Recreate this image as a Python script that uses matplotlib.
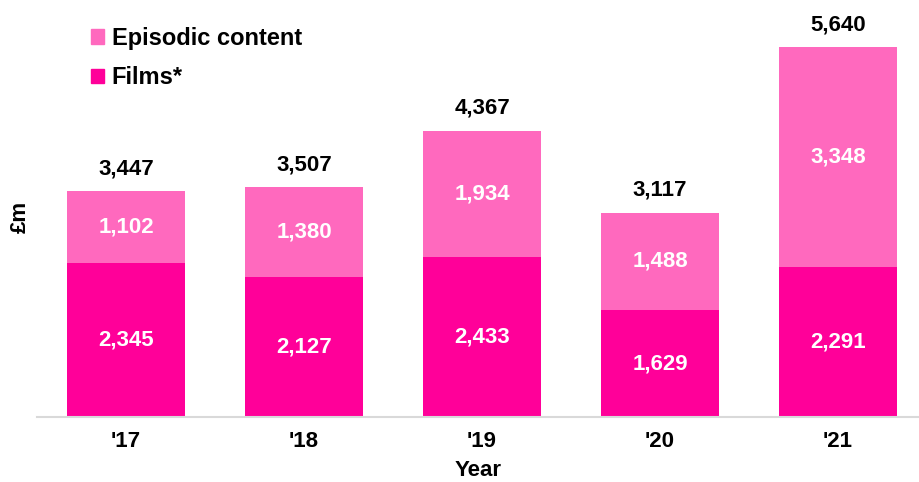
import matplotlib.pyplot as plt
import matplotlib.patches as mpatches
import numpy as np

plt.rcParams['font.family'] = ['Liberation Sans', 'DejaVu Sans']

years = ["'17", "'18", "'19", "'20", "'21"]
films = [2345, 2127, 2433, 1629, 2291]
episodic = [1102, 1380, 1934, 1488, 3348]
totals = [3447, 3507, 4367, 3117, 5640]

c_films = '#FF0099'
c_epi = '#FF69BE'

fig = plt.figure(figsize=(9.19, 4.82), dpi=100)
ax = fig.add_axes([37 / 919, 65 / 482, 882 / 919, 417 / 482])

x = np.arange(len(years))
w = 0.663
ax.bar(x, films, w, color=c_films)
ax.bar(x, episodic, w, bottom=films, color=c_epi)

for i in range(len(years)):
    ax.text(x[i], films[i] / 2, f'{films[i]:,}', ha='center', va='center',
            color='white', fontsize=16, fontweight='bold')
    ax.text(x[i], films[i] + episodic[i] / 2, f'{episodic[i]:,}', ha='center',
            va='center', color='white', fontsize=16, fontweight='bold')
    ax.text(x[i], totals[i] + 180, f'{totals[i]:,}', ha='center', va='bottom',
            color='black', fontsize=16, fontweight='bold')

ax.set_xlim(-0.5, 4.455)
ax.set_ylim(0, 6357)
ax.set_xticks(x)
ax.set_xticklabels(years, fontsize=16, fontweight='bold')
ax.tick_params(axis='x', length=0, pad=10)
ax.set_yticks([])
for s in ['top', 'right', 'left']:
    ax.spines[s].set_visible(False)
ax.spines['bottom'].set_color('#D9D9D9')
ax.spines['bottom'].set_linewidth(1.5)

ax.set_xlabel('Year', fontsize=16, fontweight='bold', labelpad=6)
fig.text(20 / 919, 1 - 217 / 482, '£m', rotation=90, ha='center', va='center',
         fontsize=16, fontweight='bold')

handles = [mpatches.Patch(color=c_epi, label='Episodic content'),
           mpatches.Patch(color=c_films, label='Films*')]
leg = ax.legend(handles=handles, loc='upper left', bbox_to_anchor=(0.043, 0.975),
                frameon=False, prop={'size': 17, 'weight': 'bold'},
                handlelength=0.55, handleheight=0.55, handletextpad=0.3,
                labelspacing=0.7, borderaxespad=0.3)

fig.savefig('out.png', dpi=100)
